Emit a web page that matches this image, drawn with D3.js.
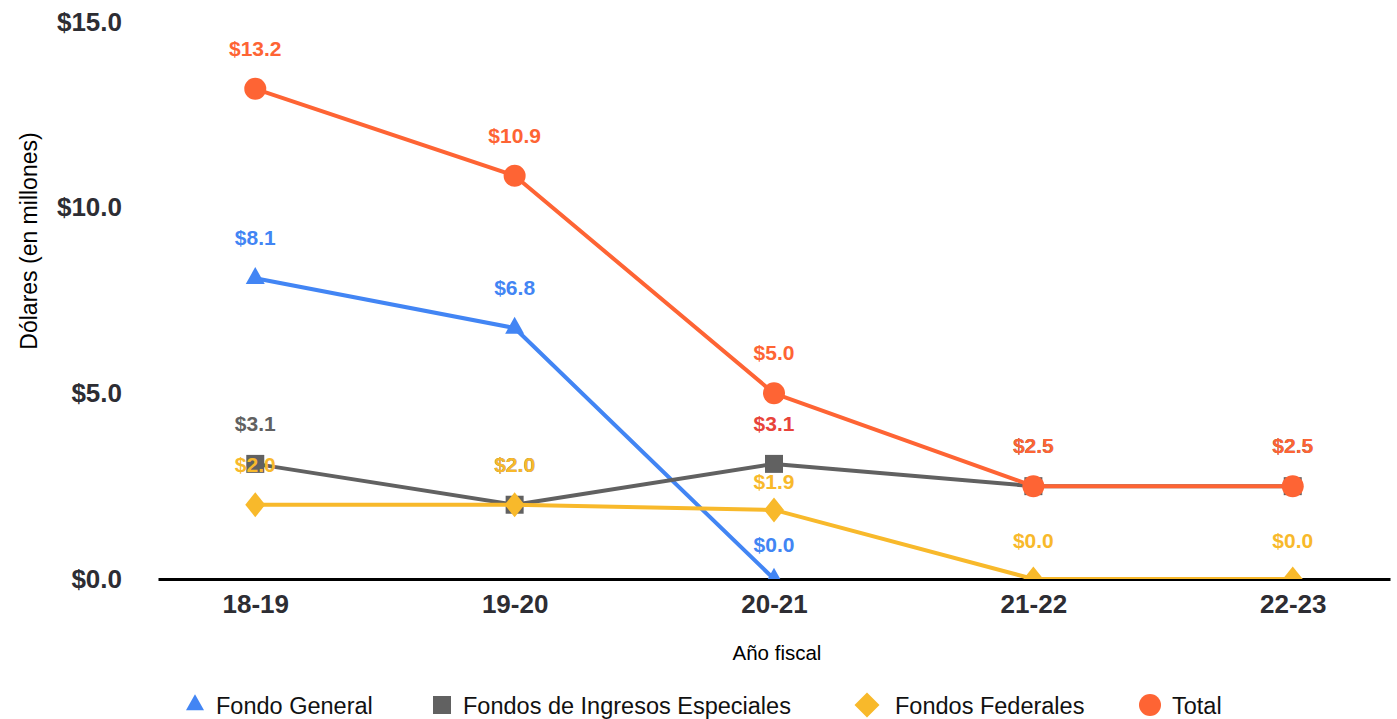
<!DOCTYPE html>
<html>
<head>
<meta charset="utf-8">
<script src="https://cdn.jsdelivr.net/npm/d3@7"></script>
<style>
    body { margin: 0; background: #fff; }
    text { font-family: "Liberation Sans", Arial, sans-serif; }
</style>
</head>
<body>
<div id="chart"></div>
<script>
const years = ["18-19", "19-20", "20-21", "21-22", "22-23"];
const fondoGeneral = [8.1, 6.76, 0.0, null, null];
const ingresosEspeciales = [3.1, 2.0, 3.1, 2.5, 2.5];
const fondosFederales = [2.0, 2.0, 1.86, 0.0, 0.0];
const total = [13.2, 10.86, 5.0, 2.5, 2.5];
const yTicks = [0, 5, 10, 15];

const seriesNames = ["Fondo General", "Fondos de Ingresos Especiales", "Fondos Federales", "Total"];
const seriesColors = ["#4285f4", "#616161", "#f8b92b", "#fe6434"];
const seriesSymbols = ["triangle", "square", "diamond", "circle"];
// one label in the original is drawn in a different red, a couple are pushed down
const labelColorOverride = {"1-2": "#e8433a"};
const labelShiftOverride = {"2-2": 12, "0-2": 6, "2-3": 2, "2-4": 2};

const W = 1397, H = 719;
const plot = {left: 158, right: 1390, top: 22, bottom: 579};

const svg = d3.select("#chart").append("svg")
    .attr("width", W)
    .attr("height", H);

const x = d3.scalePoint()
    .domain(years)
    .range([plot.left, plot.right])
    .padding(0.375);
const y = d3.scaleLinear()
    .domain([0, 15])
    .range([plot.bottom, plot.top]);

svg.append("defs").append("clipPath")
    .attr("id", "plotclip")
    .append("rect")
    .attr("x", plot.left - 20).attr("y", 0)
    .attr("width", plot.right - plot.left + 40)
    .attr("height", plot.bottom);

// y axis labels
const yAxis = svg.append("g")
    .attr("transform", `translate(122, 0)`)
    .call(d3.axisLeft(y).tickValues(yTicks).tickSize(0).tickPadding(0)
        .tickFormat(d3.format("$.1f")));
yAxis.select(".domain").remove();
yAxis.selectAll("text")
    .style("font-size", "26px")
    .style("font-weight", "bold")
    .attr("fill", "#2d2d33");

// x axis
const xAxis = svg.append("g")
    .attr("transform", `translate(0, ${plot.bottom})`)
    .call(d3.axisBottom(x).tickSize(0).tickPadding(16));
xAxis.select(".domain")
    .attr("stroke", "#000")
    .attr("stroke-width", 3);
xAxis.selectAll("text")
    .style("font-size", "26px")
    .style("font-weight", "bold")
    .attr("fill", "#2d2d33");

svg.append("text")
    .attr("x", 777).attr("y", 660)
    .attr("text-anchor", "middle")
    .style("font-size", "20.5px")
    .text("Año fiscal");

svg.append("text")
    .attr("transform", `translate(37, 241) rotate(-90)`)
    .attr("text-anchor", "middle")
    .style("font-size", "23px")
    .text("Dólares (en millones)");

const allSeries = [fondoGeneral, ingresosEspeciales, fondosFederales, total];

function symbolPath(sym, w, h) {
    if (sym === "diamond") {
        return `M0,${-h / 2}L${w / 2},0L0,${h / 2}L${-w / 2},0Z`;
    }
    if (sym === "square") {
        return `M${-w / 2},${-h / 2}h${w}v${h}h${-w}Z`;
    }
    if (sym === "circle") {
        return d3.symbol().type(d3.symbolCircle).size(Math.PI * w * w / 4)();
    }
    // triangle, centered on its centroid
    return `M0,${-2 * h / 3}L${w / 2},${h / 3}L${-w / 2},${h / 3}Z`;
}
const markerDims = [[19, 17], [18, 18], [20, 25], [22, 22]];
const legendDims = [[18, 16], [18, 18], [25, 25], [22, 22]];

const plotG = svg.append("g").attr("clip-path", "url(#plotclip)");

const line = d3.line()
    .defined(d => d.v !== null)
    .x(d => x(d.year))
    .y(d => y(d.v));

allSeries.forEach((vals, si) => {
    const pts = years.map((yr, i) => ({year: yr, v: vals[i]}));
    const g = plotG.append("g");
    g.append("path")
        .datum(pts)
        .attr("d", line)
        .attr("fill", "none")
        .attr("stroke", seriesColors[si])
        .attr("stroke-width", 4)
        .attr("stroke-linejoin", "round");
    g.selectAll("path.mark")
        .data(pts.filter(d => d.v !== null))
        .join("path")
        .attr("class", "mark")
        .attr("transform", d => `translate(${x(d.year)}, ${y(d.v)})`)
        .attr("d", symbolPath(seriesSymbols[si], markerDims[si][0], markerDims[si][1]))
        .attr("fill", seriesColors[si]);
});

// data labels on top
allSeries.forEach((vals, si) => {
    svg.append("g").selectAll("text")
        .data(years.map((yr, i) => ({year: yr, v: vals[i], i})).filter(d => d.v !== null))
        .join("text")
        .attr("x", d => x(d.year))
        .attr("y", d => y(d.v) - 33 + (labelShiftOverride[si + "-" + d.i] || 0))
        .attr("text-anchor", "middle")
        .style("font-size", "21px")
        .style("font-weight", "bold")
        .attr("fill", d => labelColorOverride[si + "-" + d.i] || seriesColors[si])
        .text(d => d3.format("$.1f")(d.v));
});

// legend
const legendX = [195, 442, 867, 1150];
const legendTextX = [216, 463, 895, 1172];
const legend = svg.append("g").attr("transform", "translate(0, 705)");
seriesNames.forEach((name, si) => {
    legend.append("path")
        .attr("transform", `translate(${legendX[si]}, 0)`)
        .attr("d", symbolPath(seriesSymbols[si], legendDims[si][0], legendDims[si][1]))
        .attr("fill", seriesColors[si]);
    legend.append("text")
        .attr("x", legendTextX[si])
        .attr("y", 9)
        .style("font-size", "23.5px")
        .attr("fill", "#111")
        .text(name);
});
</script>
</body>
</html>
